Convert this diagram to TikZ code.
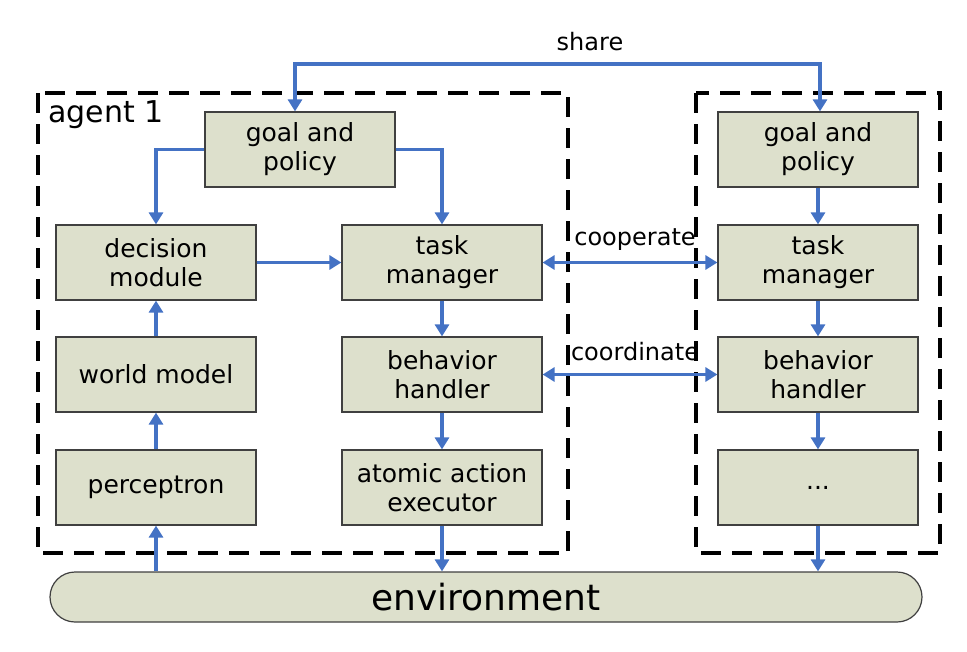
\documentclass[tikz,border=0pt]{standalone}
\usepackage{fontspec}
\setmainfont{DejaVu Sans}
\usetikzlibrary{arrows.meta}
\definecolor{boxfill}{HTML}{DDE0CC}
\definecolor{lineblue}{HTML}{4472C4}
\begin{document}
\begin{tikzpicture}[x=1pt,y=-1pt,
  blk/.style={draw=black!75,fill=boxfill,line width=1.2pt,minimum width=200pt,minimum height=75pt,align=center,font=\fontsize{25}{29}\selectfont,inner sep=0pt},
  conn/.style={draw=lineblue,line width=3.2pt,-{Triangle[length=12pt,width=14pt]}},
  biconn/.style={conn,{Triangle[length=12pt,width=14pt]}-{Triangle[length=12pt,width=14pt]}},
  agentbox/.style={draw=black,line width=3.2pt,dash pattern=on 20pt off 11pt},
  lbl/.style={font=\fontsize{24}{28}\selectfont,inner sep=1pt}]
\useasboundingbox (0,0) rectangle (967,651);
\draw[agentbox] (38,93) rectangle (568,553);
\draw[agentbox] (696,93) rectangle (940,553);
\node[anchor=north west,font=\fontsize{30}{34}\selectfont,inner sep=0pt] (ag) at (48,100) {agent 1};
\node[blk,minimum width=190pt] (gp1) at (300,149.5) {goal and\\policy};
\node[blk] (dm) at (156,262.5) {decision\\module};
\node[blk] (tm1) at (442,262.5) {task\\manager};
\node[blk] (wm) at (156,374.5) {world model};
\node[blk] (bh1) at (442,374.5) {behavior\\handler};
\node[blk] (pc) at (156,487.5) {perceptron};
\node[blk] (ae) at (442,487.5) {atomic action\\executor};
\node[blk] (gp2) at (818,149.5) {goal and\\policy};
\node[blk] (tm2) at (818,262.5) {task\\manager};
\node[blk] (bh2) at (818,374.5) {behavior\\handler};
\node[blk] (dots) at (818,487.5) {...};
\node[draw=black!75,fill=boxfill,line width=1.2pt,rounded corners=25pt,minimum width=872pt,minimum height=50pt,inner sep=0pt,font=\fontsize{36}{40}\selectfont] (env) at (486,597) {environment};
\coordinate (s1) at (295,64);
\coordinate (s2) at (820,64);
\draw[biconn] (gp1.north -| s1) -- (s1) -- (s2) -- (gp2.north -| s2);
\node[lbl] (sh) at (590,42) {share};
\draw[conn] (gp1.west) -| (dm.north);
\draw[conn] (gp1.east) -| (tm1.north);
\draw[conn] (dm.east) -- (tm1.west);
\draw[conn] (wm) -- (dm);
\draw[conn] (pc) -- (wm);
\draw[conn] (env.north -| pc) -- (pc);
\draw[conn] (tm1) -- (bh1);
\draw[conn] (bh1) -- (ae);
\draw[conn] (ae) -- (env.north -| ae);
\draw[conn] (gp2) -- (tm2);
\draw[conn] (tm2) -- (bh2);
\draw[conn] (bh2) -- (dots);
\draw[conn] (dots) -- (env.north -| dots);
\draw[biconn] (tm1) -- (tm2);
\draw[biconn] (bh1) -- (bh2);
\node[lbl] (co) at (635,240) {cooperate};
\node[lbl] (cd) at (635,352) {coordinate};
\end{tikzpicture}
\end{document}
